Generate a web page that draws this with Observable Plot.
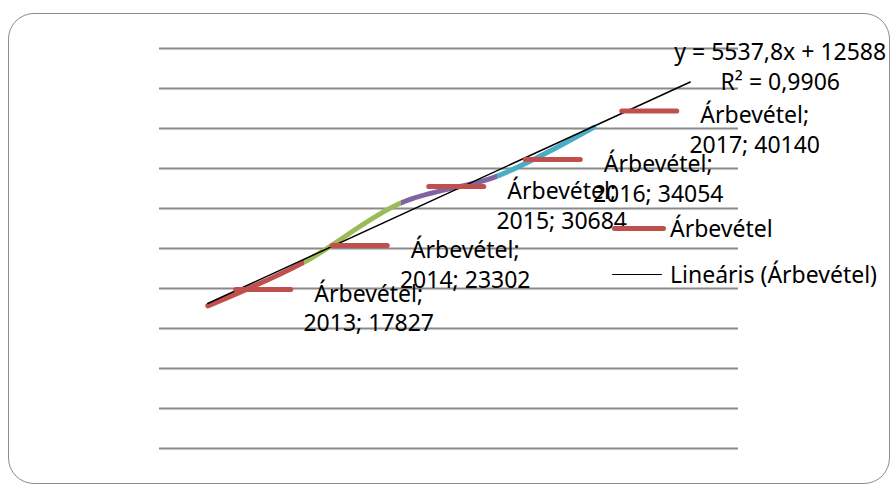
<!DOCTYPE html>
<html><head><meta charset="utf-8">
<script src="https://cdn.jsdelivr.net/npm/d3@7"></script>
<script src="https://cdn.jsdelivr.net/npm/@observablehq/plot@0.6"></script>
<style>
body{margin:0;background:#fff;font-family:"Noto Sans",sans-serif;}
#wrap{position:relative;width:894px;height:484px;overflow:hidden;background:#fff;}
#border{position:absolute;left:8px;top:13px;width:882px;height:471px;border:1.5px solid #8c8c8c;border-radius:26px;box-sizing:border-box;}
#chart{position:absolute;left:0;top:0;}
.leg{position:absolute;left:612px;width:282px;font-size:23px;color:#000;white-space:nowrap;display:flex;align-items:center;line-height:1;}
.leg .k{display:inline-block;flex:0 0 auto;border-radius:3px;}
</style></head>
<body>
<div id="wrap">
  <div id="border"></div>
  <div id="chart"></div>
  <div class="leg" id="leg1" style="top:217px;"><span class="k" style="width:54px;height:5px;margin-right:4px;background:#C0504D"></span><span id="leg1t"></span></div>
  <div class="leg" id="leg2" style="top:263px;"><span class="k" style="width:50px;height:1.5px;margin-right:8px;background:#000"></span><span id="leg2t"></span></div>
</div>
<script>
const seriesName = "Árbevétel";
const years = [2013, 2014, 2015, 2016, 2017];
const revenue = [17827, 23302, 30684, 34054, 40140];
const segmentColors = ["#C0504D", "#9BBB59", "#8064A2", "#4BACC6"];
const trendYears = [2013, 2018];
const trendValues = [18126, 45815];
const yTicks = [0, 5000, 10000, 15000, 20000, 25000, 30000, 35000, 40000, 45000, 50000];
const equationText = "y = 5537,8x + 12588";
const r2Text = "R² = 0,9906";
const trendLegend = "Lineáris (Árbevétel)";

const data = years.map((y, i) => ({year: y, value: revenue[i]}));
const trend = trendYears.map((y, i) => ({year: y, value: trendValues[i]}));
const trendEnd = [trend[trend.length - 1]];

const keySymbol = {draw(ctx) { ctx.moveTo(-27.5, 0); ctx.lineTo(27.5, 0); }};

const chart = Plot.plot({
  width: 894, height: 484,
  marginLeft: 159, marginRight: 156, marginTop: 48, marginBottom: 36,
  style: {fontFamily: "'Noto Sans', sans-serif", background: "transparent", overflow: "visible"},
  x: {type: "linear", domain: [2012.5, 2018.5], axis: null},
  y: {domain: [0, 50000], axis: null},
  marks: [
    Plot.ruleY(yTicks, {stroke: "#8a8a8a", strokeWidth: 1.8, strokeOpacity: 1}),
    Plot.line(data, {x: "year", y: "value", curve: "catmull-rom", stroke: "url(#seg)", strokeWidth: 5, strokeLinecap: "round"}),
    Plot.line(trend, {x: "year", y: "value", stroke: "#000", strokeWidth: 1.5}),
    Plot.dot(data, {x: "year", y: "value", symbol: keySymbol, fill: "none", stroke: "#C0504D", strokeWidth: 5, strokeLinecap: "round", dx: 55.5, dy: -16.5}),
    Plot.text(data, {x: "year", y: "value", text: d => `${seriesName};\n${d.year}; ${d.value}`, fontSize: 23, lineHeight: 1.3, fill: "#000", dx: 161, dy: 1, textAnchor: "middle", lineAnchor: "middle"}),
    Plot.text(trendEnd, {x: "year", y: "value", text: () => equationText, fontSize: 23, fill: "#000", dx: 90, dy: -29, textAnchor: "middle"}),
    Plot.text(trendEnd, {x: "year", y: "value", text: () => r2Text, fontSize: 23, fill: "#000", dx: 90, dy: 1, textAnchor: "middle"})
  ]
});

// segment-colour gradient along x, stops at data points
const xs = chart.scale("x");
const X = xs.apply ? (v => xs.apply(v)) : d3.scaleLinear(xs.domain, xs.range);
const x0 = X(years[0]), x1 = X(years[years.length - 1]);
const svg = d3.select(chart);
const grad = svg.insert("defs", ":first-child").append("linearGradient")
  .attr("id", "seg").attr("gradientUnits", "userSpaceOnUse")
  .attr("x1", x0).attr("x2", x1).attr("y1", 0).attr("y2", 0);
segmentColors.forEach((c, i) => {
  const a = (X(years[i]) - x0) / (x1 - x0), b = (X(years[i + 1]) - x0) / (x1 - x0);
  grad.append("stop").attr("offset", a).attr("stop-color", c);
  grad.append("stop").attr("offset", b).attr("stop-color", c);
});

document.getElementById("chart").appendChild(chart);
document.getElementById("leg1t").textContent = seriesName;
document.getElementById("leg2t").textContent = trendLegend;
</script>
</body></html>
